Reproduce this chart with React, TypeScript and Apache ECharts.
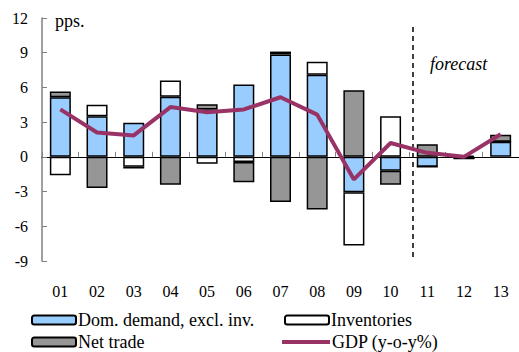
import React, { useEffect, useRef } from "react";
import * as echarts from "echarts";

const categories = ["01", "02", "03", "04", "05", "06", "07", "08", "09", "10", "11", "12", "13"];
const domDemand = [5.15, 3.5, 2.95, 5.2, 4.1, 6.25, 8.85, 7.1, -3.05, -1.2, -0.85, -0.15, 1.3];
const inventories = [-1.6, 1.0, -0.85, 1.4, -0.6, -0.45, 0.25, 1.12, -4.6, 3.5, 0, 0, 0];
const netTrade = [0.5, -2.7, -0.15, -2.4, 0.45, -1.75, -3.9, -4.55, 5.75, -1.2, 1.1, 0.1, 0.6];
const gdp = [4.1, 2.1, 1.85, 4.3, 3.85, 4.1, 5.15, 3.65, -1.95, 1.2, 0.35, 0.0, 1.95];

const FONT = "Times New Roman, Liberation Serif, serif";
const BLUE = "#99CCFF";
const GRAY = "#969696";
const PLUM = "#993366";

export default function App() {
  const ref = useRef<HTMLDivElement>(null);
  useEffect(() => {
    if (!ref.current) return;
    const chart = echarts.init(ref.current, undefined, { renderer: "svg" });
    const barBase = {
      type: "bar",
      stack: "total",
      barWidth: 21,
      xAxisIndex: 0,
      yAxisIndex: 0,
    };
    const legendBase = {
      orient: "horizontal",
      padding: 0,
      itemGap: 0,
      textStyle: { fontFamily: FONT, fontSize: 18, color: "#000", padding: [0, 0, 0, -3] },
    };
    chart.setOption({
      animation: false,
      textStyle: { fontFamily: FONT },
      grid: { left: 42, top: 18, width: 479, bottom: 91, containLabel: false },
      legend: [
        {
          ...legendBase,
          data: ["Dom. demand, excl. inv."],
          left: 31,
          top: 311,
          itemWidth: 44,
          itemHeight: 9,
          itemStyle: { borderColor: "#000", borderWidth: 2 },
        },
        {
          ...legendBase,
          data: ["Inventories"],
          left: 284,
          top: 311,
          itemWidth: 44,
          itemHeight: 9,
          itemStyle: { borderColor: "#000", borderWidth: 2 },
        },
        {
          ...legendBase,
          data: ["Net trade"],
          left: 31,
          top: 333,
          itemWidth: 44,
          itemHeight: 9,
          itemStyle: { borderColor: "#000", borderWidth: 2 },
        },
        {
          ...legendBase,
          data: [{ name: "GDP (y-o-y%)", icon: "rect" }],
          left: 282,
          top: 333,
          itemWidth: 48,
          itemHeight: 4,
          itemStyle: { color: PLUM, borderWidth: 0 },
        },
      ],
      xAxis: [
        {
          type: "category",
          data: categories,
          position: "bottom",
          axisLine: { show: false, onZero: false },
          axisTick: { show: false },
          axisLabel: { fontSize: 16, color: "#000", fontFamily: FONT, margin: 22 },
        },
        {
          type: "category",
          data: categories,
          position: "bottom",
          axisLine: { show: true, onZero: true, lineStyle: { color: "#000", width: 1 } },
          axisTick: { show: true, inside: true, length: 5, lineStyle: { color: "#808080" } },
          axisLabel: { show: false },
        },
      ],
      yAxis: {
        type: "value",
        min: -9,
        max: 12,
        interval: 3,
        axisLine: { show: true, lineStyle: { color: "#808080", width: 1.5 } },
        axisTick: { show: true, inside: true, length: 5, lineStyle: { color: "#808080" } },
        splitLine: { show: false },
        axisLabel: { fontSize: 16, color: "#000", fontFamily: FONT, margin: 14 },
      },
      series: [
        {
          ...barBase,
          name: "Dom. demand, excl. inv.",
          data: domDemand,
          itemStyle: { color: BLUE, borderColor: "#000", borderWidth: 1.5 },
        },
        {
          ...barBase,
          name: "Inventories",
          data: inventories,
          itemStyle: { color: "#fff", borderColor: "#000", borderWidth: 1.5 },
        },
        {
          ...barBase,
          name: "Net trade",
          data: netTrade,
          itemStyle: { color: GRAY, borderColor: "#000", borderWidth: 1.5 },
        },
        {
          type: "line",
          name: "GDP (y-o-y%)",
          data: gdp,
          symbol: "none",
          z: 5,
          lineStyle: { color: PLUM, width: 4 },
          itemStyle: { color: PLUM },
        },
      ],
      graphic: [
        {
          type: "text",
          left: 55,
          top: 12,
          style: { text: "pps.", font: "18px " + FONT, fill: "#000" },
        },
        {
          type: "text",
          left: 430,
          top: 55,
          style: { text: "forecast", font: "italic 18px " + FONT, fill: "#000" },
        },
        {
          type: "line",
          shape: { x1: 413, y1: 27, x2: 413, y2: 261 },
          style: { stroke: "#000", lineWidth: 1.5, lineDash: [5, 4] },
        },
      ],
    });
    return () => chart.dispose();
  }, []);
  return <div ref={ref} style={{ width: 519, height: 352, position: "absolute", left: 0, top: 0 }} />;
}
